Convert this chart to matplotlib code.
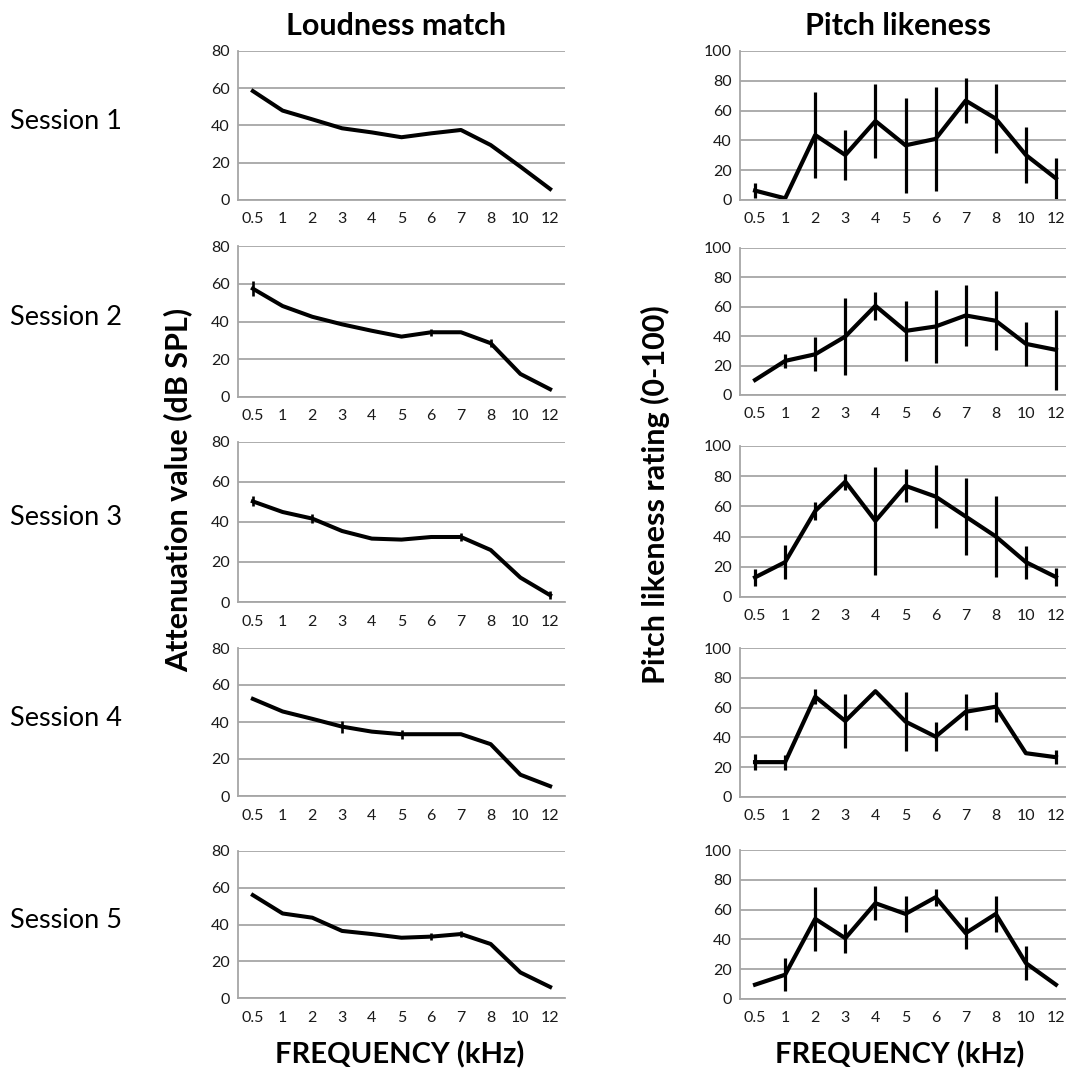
import matplotlib
matplotlib.use("Agg")
import matplotlib.pyplot as plt
import numpy as np

plt.rcParams['font.family'] = ['Lato', 'DejaVu Sans']

freq_labels = ['0.5', '1', '2', '3', '4', '5', '6', '7', '8', '10', '12']
sessions = ['Session 1', 'Session 2', 'Session 3', 'Session 4', 'Session 5']

# Loudness match (dB SPL)
loud_s1 = [58.5, 48, 43.3, 38.5, 36.3, 33.7, 35.8, 37.6, 29.5, 17.9, 5.9]
loud_s2 = [57.4, 48.2, 42.5, 38.5, 35.1, 32.0, 34.3, 34.3, 28.5, 12.2, 4.1]
loud_s3 = [50.3, 45.0, 41.7, 35.5, 31.7, 31.2, 32.5, 32.5, 26.0, 12.2, 3.4]
loud_s4 = [52.5, 45.7, 41.7, 37.5, 34.8, 33.4, 33.4, 33.4, 28.0, 11.5, 5.3]
loud_s5 = [56.0, 46.0, 43.7, 36.5, 34.8, 32.8, 33.4, 34.8, 29.4, 13.9, 6.0]
loud_e1 = [0, 0, 0, 0, 0, 0, 0, 0, 0, 0, 0]
loud_e2 = [4.0, 0, 0, 0, 0, 0, 1.9, 0, 2.0, 0, 0]
loud_e3 = [2.5, 0, 2.3, 0, 0, 0, 0, 2.0, 0, 0, 2.0]
loud_e4 = [0, 0, 0, 3.3, 0, 2.5, 0.5, 0, 0, 0, 0]
loud_e5 = [0, 0, 0, 0, 0, 0, 2.0, 1.5, 0, 0, 0]

# Pitch likeness rating (0-100)
pitch_s1 = [6.3, 1.1, 43.6, 30.2, 53.0, 36.7, 41.0, 66.7, 54.6, 30.2, 14.5]
pitch_s2 = [10.2, 23.2, 27.7, 39.8, 60.7, 43.6, 46.6, 54.1, 50.5, 34.8, 30.7]
pitch_s3 = [13.0, 23.1, 57.0, 76.4, 50.4, 73.6, 66.5, 53.3, 40.1, 23.1, 13.2]
pitch_s4 = [23.4, 23.4, 67.3, 51.0, 71.0, 50.6, 40.5, 57.2, 60.6, 29.4, 26.7]
pitch_s5 = [9.6, 16.3, 53.8, 40.8, 64.3, 57.1, 68.3, 44.2, 57.1, 24.1, 9.6]
pitch_e1 = [5, 0, 29, 17, 25, 32, 35, 15, 23, 19, 14]
pitch_e2 = [0, 5, 11.5, 26.5, 9.5, 20.5, 24.7, 21, 20, 15, 27]
pitch_e3 = [5.5, 11.3, 6, 5.3, 36, 11, 21, 25.7, 26.7, 11, 6]
pitch_e4 = [5.2, 5, 5, 17.8, 0, 20, 9.7, 12, 10, 0, 4.6]
pitch_e5 = [0, 11, 21.3, 9.7, 11.6, 12, 5.6, 10.8, 12, 11.4, 0]

loud = [loud_s1, loud_s2, loud_s3, loud_s4, loud_s5]
loud_err = [loud_e1, loud_e2, loud_e3, loud_e4, loud_e5]
pitch = [pitch_s1, pitch_s2, pitch_s3, pitch_s4, pitch_s5]
pitch_err = [pitch_e1, pitch_e2, pitch_e3, pitch_e4, pitch_e5]

W, H = 1066, 1077
fig = plt.figure(figsize=(W / 100, H / 100), dpi=100)

left_rows = [(51, 200), (246, 397), (442, 602), (648, 796), (851, 998)]
right_rows = [(51, 200), (248, 395), (446, 597), (648, 797), (850, 999)]
left_x = (238, 565)
right_x = (740, 1071)

GRID = '#a6a6a6'
TXT = '#1a1a1a'


def make_ax(xr, yr):
    x0, x1 = xr
    y0, y1 = yr
    return fig.add_axes([x0 / W, 1 - y1 / H, (x1 - x0) / W, (y1 - y0) / H])


def style(ax, ymax):
    ax.set_xlim(-0.5, 10.5)
    ax.set_ylim(0, ymax)
    ax.set_yticks(np.arange(0, ymax + 1, 20))
    ax.set_xticks(np.arange(len(freq_labels)))
    ax.set_xticklabels(freq_labels)
    ax.grid(axis='y', color=GRID, linewidth=1.3)
    ax.set_axisbelow(True)
    for s in ['top', 'right']:
        ax.spines[s].set_visible(False)
    for s in ['left', 'bottom']:
        ax.spines[s].set_color(GRID)
        ax.spines[s].set_linewidth(1.3)
    ax.tick_params(length=0, labelsize=11.5, colors=TXT, pad=9)
    ax.tick_params(axis='y', pad=6)


x = np.arange(len(freq_labels))
for i in range(5):
    ax = make_ax(left_x, left_rows[i])
    style(ax, 80)
    ax.errorbar(x, loud[i], yerr=loud_err[i], color='black', linewidth=2.9,
                elinewidth=1.9, capsize=0)
    ax = make_ax(right_x, right_rows[i])
    style(ax, 100)
    ax.errorbar(x, pitch[i], yerr=pitch_err[i], color='black', linewidth=3.0,
                elinewidth=2.3, capsize=0)
    yc = (left_rows[i][0] + left_rows[i][1]) / 2 - 4
    fig.text(10 / W, 1 - yc / H, sessions[i], fontsize=19.5, ha='left', va='center', color='black')

fig.text(396 / W, 1 - 26 / H, 'Loudness match', fontsize=22, fontweight='bold', ha='center', va='center')
fig.text(898 / W, 1 - 26 / H, 'Pitch likeness', fontsize=22, fontweight='bold', ha='center', va='center')
fig.text(178 / W, 1 - 490 / H, 'Attenuation value (dB SPL)', fontsize=22, fontweight='bold',
         rotation=90, ha='center', va='center')
fig.text(655 / W, 1 - 495 / H, 'Pitch likeness rating (0-100)', fontsize=22, fontweight='bold',
         rotation=90, ha='center', va='center')
fig.text(400 / W, 1 - 1055 / H, 'FREQUENCY (kHz)', fontsize=21, fontweight='bold', ha='center', va='center')
fig.text(900 / W, 1 - 1055 / H, 'FREQUENCY (kHz)', fontsize=21, fontweight='bold', ha='center', va='center')

fig.savefig('out.png', dpi=100)
